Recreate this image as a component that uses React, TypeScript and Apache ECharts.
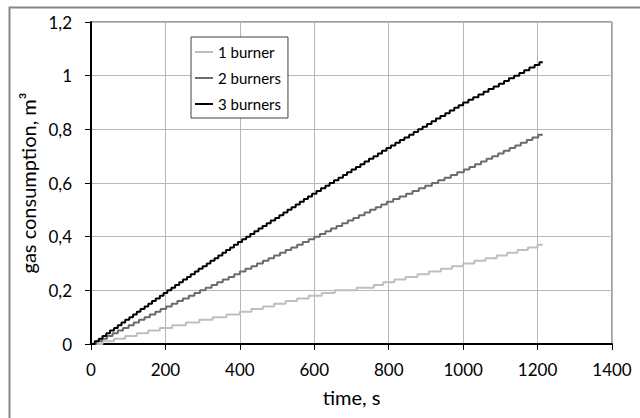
import React, { useEffect, useRef } from "react";
import * as echarts from "echarts";

// Times (s) at which the gas meter registered each further 0.01 m³
const METER_STEP = 0.01;
const END_TIME = 1214;
const burner1Steps = [31, 62, 92, 123, 154, 185, 218, 255, 291, 327, 364, 400, 431, 462, 492, 523, 554, 585, 620, 655, 714, 760, 785, 815, 845, 877, 908, 940, 970, 1000, 1030, 1060, 1090, 1118, 1146, 1174, 1200];
const burner2Steps = [14, 29, 43, 58, 72, 86, 101, 115, 129, 144, 158, 173, 187, 202, 217, 232, 247, 263, 278, 293, 308, 324, 339, 354, 370, 385, 400, 415, 431, 446, 462, 477, 492, 508, 523, 538, 554, 569, 585, 600, 615, 630, 645, 660, 675, 690, 705, 720, 735, 750, 765, 780, 795, 812, 829, 847, 864, 881, 898, 916, 933, 950, 967, 984, 1002, 1017, 1032, 1048, 1063, 1078, 1094, 1109, 1125, 1140, 1155, 1171, 1186, 1202];
const burner3Steps = [10, 21, 31, 41, 51, 62, 72, 82, 92, 103, 113, 123, 133, 144, 154, 164, 174, 185, 195, 205, 216, 226, 237, 247, 258, 268, 279, 289, 300, 311, 321, 332, 342, 353, 363, 374, 384, 395, 406, 417, 428, 439, 450, 461, 472, 483, 495, 506, 517, 528, 539, 550, 561, 572, 583, 594, 606, 618, 630, 641, 653, 665, 677, 688, 700, 712, 724, 735, 747, 759, 771, 782, 794, 806, 818, 830, 842, 855, 867, 879, 891, 903, 915, 927, 939, 952, 964, 976, 988, 1000, 1014, 1027, 1041, 1055, 1068, 1082, 1096, 1110, 1123, 1137, 1151, 1164, 1178, 1192, 1205];

const seriesNames = ["1 burner", "2 burners", "3 burners"];
const seriesColors = ["#bfbfbf", "#6b6b6b", "#000000"];
const xTicks = { min: 0, max: 1400, interval: 200 };
const yTicks = { min: 0, max: 1.2, interval: 0.2 };

const FONT = "Lato";

function buildSeriesData(steps: number[]) {
  const pts: number[][] = [[0, 0]];
  steps.forEach((t, i) => pts.push([t, +((i + 1) * METER_STEP).toFixed(2)]));
  pts.push([END_TIME, +(steps.length * METER_STEP).toFixed(2)]);
  return pts;
}

export default function App() {
  const ref = useRef<HTMLDivElement>(null);
  useEffect(() => {
    if (!ref.current) return;
    const chart = echarts.init(ref.current, undefined, { renderer: "svg" });
    const allSteps = [burner1Steps, burner2Steps, burner3Steps];
    chart.setOption({
      animation: false,
      backgroundColor: "#ffffff",
      textStyle: { fontFamily: FONT, color: "#000" },
      grid: {
        left: 91,
        top: 22,
        right: 28,
        bottom: 74,
        show: true,
        borderColor: "#404040",
        borderWidth: 1,
      },
      graphic: [
        {
          type: "rect",
          left: 7,
          top: 5,
          shape: { x: 0, y: 0, width: 660, height: 440 },
          style: { fill: "none", stroke: "#868686", lineWidth: 2 },
          silent: true,
        },
      ],
      legend: {
        orient: "vertical",
        left: 191,
        top: 37,
        padding: [7, 7, 6, 4],
        itemGap: 10,
        itemWidth: 18,
        itemHeight: 2,
        icon: "rect",
        borderColor: "#404040",
        borderWidth: 1,
        borderRadius: 0,
        backgroundColor: "#fff",
        textStyle: { fontFamily: FONT, fontSize: 15, color: "#000", lineHeight: 16 },
        data: seriesNames,
      },
      xAxis: {
        type: "value",
        min: xTicks.min,
        max: xTicks.max,
        interval: xTicks.interval,
        name: "time, s",
        nameLocation: "middle",
        nameGap: 43,
        nameTextStyle: { fontFamily: FONT, fontSize: 20, color: "#000" },
        axisLine: { show: true, onZero: false, lineStyle: { color: "#000", width: 2 } },
        axisTick: { show: true, inside: false, length: 6, lineStyle: { color: "#000", width: 1 } },
        axisLabel: {
          margin: 17,
          fontFamily: FONT,
          fontSize: 17,
          color: "#000",
          formatter: (v: number) => String(v),
        },
        splitLine: { show: true, lineStyle: { color: "#b8b8b8", width: 1 } },
      },
      yAxis: {
        type: "value",
        min: yTicks.min,
        max: yTicks.max,
        interval: yTicks.interval,
        name: "gas consumption, m³",
        nameLocation: "middle",
        nameGap: 47,
        nameTextStyle: { fontFamily: FONT, fontSize: 20, color: "#000" },
        axisLine: { show: true, onZero: false, lineStyle: { color: "#000", width: 2 } },
        axisTick: { show: true, inside: false, length: 6, lineStyle: { color: "#000", width: 1 } },
        axisLabel: {
          margin: 19,
          fontFamily: FONT,
          fontSize: 17,
          color: "#000",
          formatter: (v: number) => String(Math.round(v * 10) / 10).replace(".", ","),
        },
        splitLine: { show: true, lineStyle: { color: "#b8b8b8", width: 1 } },
      },
      series: seriesNames.map((name, i) => ({
        name,
        type: "line",
        step: "end",
        symbol: "none",
        data: buildSeriesData(allSteps[i]),
        lineStyle: { color: seriesColors[i], width: 2 },
        itemStyle: { color: seriesColors[i] },
        z: 2 + i,
      })),
    });
    return () => chart.dispose();
  }, []);
  return (
    <div
      ref={ref}
      style={{ position: "fixed", left: 0, top: 0, width: 640, height: 418, background: "#fff" }}
    />
  );
}
